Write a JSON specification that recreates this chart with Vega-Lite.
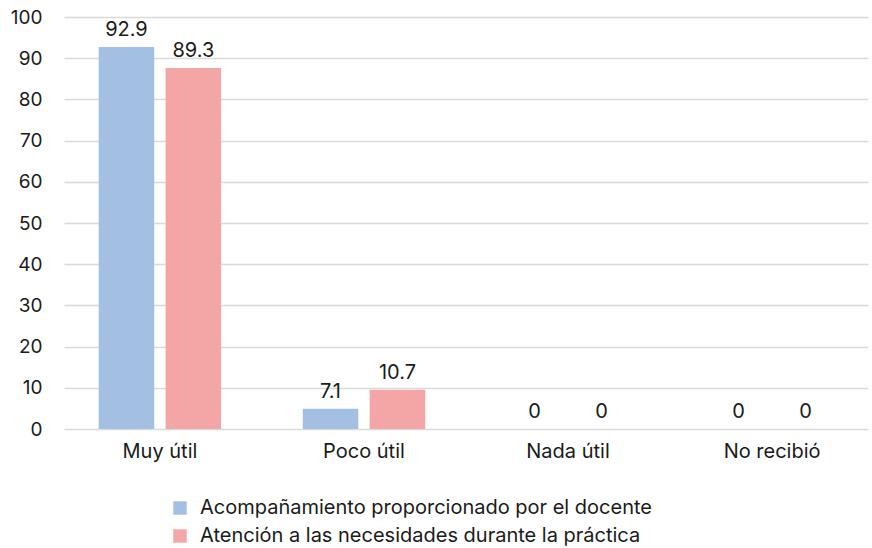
{
  "$schema": "https://vega.github.io/schema/vega-lite/v6.json",
  "width": 804,
  "height": 412,
  "autosize": {"type": "none"},
  "padding": {"left": 64, "top": 17, "right": 4, "bottom": 119},
  "background": "white",
  "config": {
    "font": "Inter",
    "view": {"stroke": null},
    "axis": {"labelFont": "Inter", "labelColor": "#1a1a1a"},
    "legend": {"labelFont": "Inter", "labelColor": "#1a1a1a"}
  },
  "data": {
    "values": [
      {"categoria": "Muy útil", "serie": "Acompañamiento proporcionado por el docente", "valor": 92.7, "etiqueta": "92.9"},
      {"categoria": "Muy útil", "serie": "Atención a las necesidades durante la práctica", "valor": 87.6, "etiqueta": "89.3"},
      {"categoria": "Poco útil", "serie": "Acompañamiento proporcionado por el docente", "valor": 4.9, "etiqueta": "7.1"},
      {"categoria": "Poco útil", "serie": "Atención a las necesidades durante la práctica", "valor": 9.5, "etiqueta": "10.7"},
      {"categoria": "Nada útil", "serie": "Acompañamiento proporcionado por el docente", "valor": 0, "etiqueta": "0"},
      {"categoria": "Nada útil", "serie": "Atención a las necesidades durante la práctica", "valor": 0, "etiqueta": "0"},
      {"categoria": "No recibió", "serie": "Acompañamiento proporcionado por el docente", "valor": 0, "etiqueta": "0"},
      {"categoria": "No recibió", "serie": "Atención a las necesidades durante la práctica", "valor": 0, "etiqueta": "0"}
    ]
  },
  "encoding": {
    "x": {
      "field": "categoria",
      "type": "nominal",
      "sort": ["Muy útil", "Poco útil", "Nada útil", "No recibió"],
      "scale": {"paddingInner": 0.4, "paddingOuter": 0.17},
      "axis": {
        "title": null,
        "labelAngle": 0,
        "labelFontSize": 20,
        "labelPadding": 12,
        "ticks": false,
        "domain": false,
        "grid": false
      }
    },
    "xOffset": {
      "field": "serie",
      "type": "nominal",
      "scale": {"paddingInner": 0.17}
    },
    "y": {
      "field": "valor",
      "type": "quantitative",
      "scale": {"domain": [0, 100], "nice": false},
      "axis": {
        "title": null,
        "values": [0, 10, 20, 30, 40, 50, 60, 70, 80, 90, 100],
        "labelFontSize": 19,
        "labelPadding": 22,
        "ticks": false,
        "domain": false,
        "gridColor": "#d9d9d9",
        "gridWidth": 1.5
      }
    }
  },
  "layer": [
    {
      "mark": {"type": "bar"},
      "encoding": {
        "color": {
          "field": "serie",
          "type": "nominal",
          "scale": {
            "domain": ["Acompañamiento proporcionado por el docente", "Atención a las necesidades durante la práctica"],
            "range": ["#a3bfe2", "#f4a6a6"]
          },
          "legend": {
            "title": null,
            "orient": "none",
            "legendX": 106,
            "legendY": 481,
            "symbolType": "square",
            "symbolSize": 180,
            "symbolStrokeWidth": 0,
            "labelFontSize": 20,
            "labelLimit": 0,
            "labelOffset": 10,
            "rowPadding": 8
          }
        }
      }
    },
    {
      "mark": {"type": "text", "fontSize": 20, "dy": -11, "baseline": "alphabetic", "color": "#1a1a1a"},
      "encoding": {
        "text": {"field": "etiqueta"}
      }
    }
  ]
}
